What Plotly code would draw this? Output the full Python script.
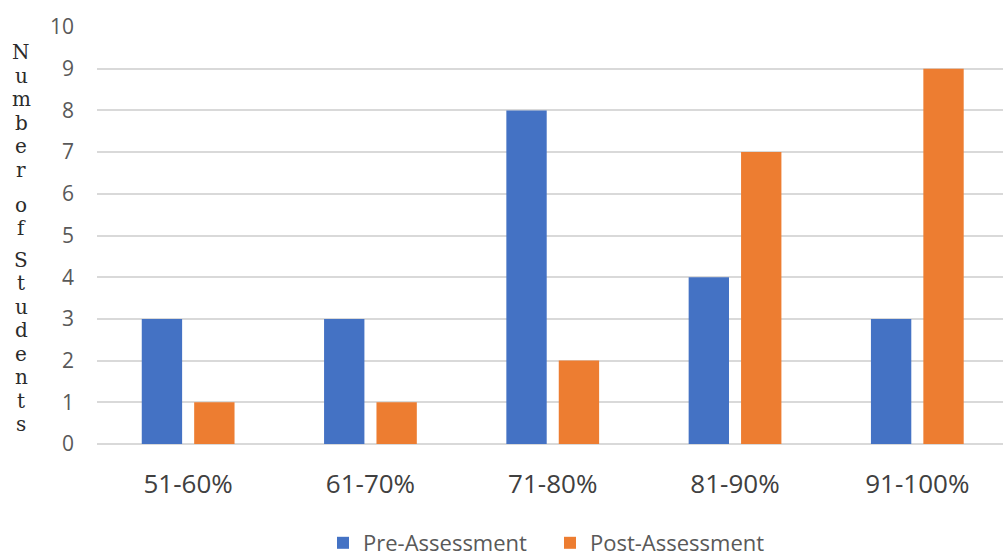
import plotly.graph_objects as go

# Score bands and student counts before/after the assessment
categories = ["51-60%", "61-70%", "71-80%", "81-90%", "91-100%"]
pre_assessment = [3, 3, 8, 4, 3]
post_assessment = [1, 1, 2, 7, 9]
y_ticks = list(range(0, 11))
y_title = "Number of Students"

BLUE = "#4472C4"
ORANGE = "#ED7D31"
GRID = "#d9d9d9"
FONT = "Open Sans, Liberation Sans, sans-serif"

W, H = 1003, 558
M_L, M_R, M_T, M_B = 97, 0, 27, 114

fig = go.Figure()
fig.add_trace(go.Bar(x=categories, y=pre_assessment, name="Pre-Assessment",
                     marker=dict(color=BLUE, line=dict(width=0))))
fig.add_trace(go.Bar(x=categories, y=post_assessment, name="Post-Assessment",
                     marker=dict(color=ORANGE, line=dict(width=0))))

# Vertical, letter-stacked axis title (one annotation per letter)
line_h = 23.5
space_gaps = [1.5, 1.35]
py = 52
n_space = 0
for ch in y_title:
    if ch == " ":
        py += line_h * (space_gaps[n_space] - 1)
        n_space += 1
        continue
    fig.add_annotation(
        text=ch, xref="paper", yref="paper", x=0, y=1,
        xanchor="center", yanchor="middle",
        xshift=21 - M_L, yshift=-(py - M_T),
        showarrow=False,
        font=dict(family="DejaVu Serif, Liberation Serif, serif", size=20, color="#2b2b2b"),
    )
    py += line_h

fig.update_layout(
    width=W, height=H,
    margin=dict(l=M_L, r=M_R, t=M_T, b=M_B, autoexpand=False),
    paper_bgcolor="white", plot_bgcolor="white",
    barmode="group", bargap=0.425, bargroupgap=0.23,
    showlegend=True,
    legend=dict(orientation="h", x=0.5, xanchor="center",
                yref="container", y=1 - 543 / H, yanchor="middle",
                font=dict(family=FONT, size=22, color="#595959"),
                itemwidth=30, tracegroupgap=0,
                entrywidth=182, entrywidthmode="pixels"),
    xaxis=dict(range=[-0.5, 4.47], showgrid=False, zeroline=False, showline=False,
               ticks="", tickfont=dict(family=FONT, size=26, color="#404040"),
               ticklabelstandoff=22),
    yaxis=dict(range=[0, 10], tickvals=y_ticks, showgrid=True, gridcolor=GRID, gridwidth=1.5,
               zeroline=True, zerolinecolor=GRID, zerolinewidth=1.5, showline=False,
               ticks="", tickfont=dict(family=FONT, size=21, color="#595959"),
               ticklabelstandoff=22),
)

fig.write_html("out.html")
